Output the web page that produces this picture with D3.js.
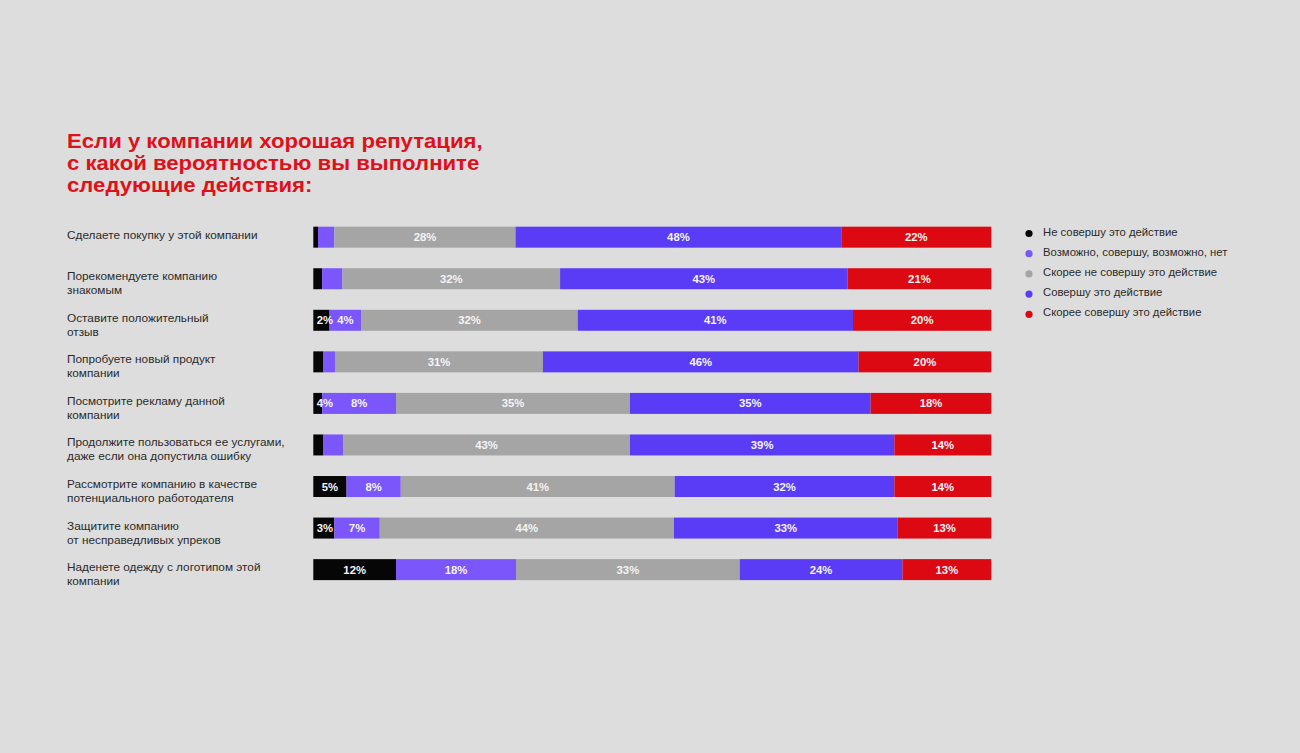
<html>
<head>
<meta charset="utf-8">
<script src='https://d3js.org/d3.v7.min.js'></script>
<style>
  body { margin: 0; background: #dedddd; }
  svg { display: block; font-family: "Liberation Sans", Arial, sans-serif; }
  .title { fill: #e0101a; font-weight: bold; font-size: 19.6px; }
  .cat { fill: #2a2a2a; font-size: 11.8px; }
  .seglabel { fill: #f4f4f4; font-weight: bold; font-size: 11.3px; }
  .legend text { fill: #2a2a2a; font-size: 11.3px; }
</style>
</head>
<body>
<svg width=1300 height=753></svg>
<script>
// title lines
var titleLines = ["Если у компании хорошая репутация,",
                  "с какой вероятностью вы выполните",
                  "следующие действия:"];

// rows (category labels, split by line)
var categories = [
  ["Сделаете покупку у этой компании"],
  ["Порекомендуете компанию", "знакомым"],
  ["Оставите положительный", "отзыв"],
  ["Попробуете новый продукт", "компании"],
  ["Посмотрите рекламу данной", "компании"],
  ["Продолжите пользоваться ее услугами,", "даже если она допустила ошибку"],
  ["Рассмотрите компанию в качестве", "потенциального работодателя"],
  ["Защитите компанию", "от несправедливых упреков"],
  ["Наденете одежду с логотипом этой", "компании"]
];

var seriesNames = ["Не совершу это действие",
                   "Возможно, совершу, возможно, нет",
                   "Скорее не совершу это действие",
                   "Совершу это действие",
                   "Скорее совершу это действие"];
var seriesColors = ["#060606", "#7b56fa", "#a5a5a5", "#5a3cf6", "#dc0912"];

// bar shares (%)
var neverDo  = [0.7, 1.3, 2.4, 1.5, 1.3, 1.5, 4.9, 3.1, 12.2];
var maybe    = [2.4, 3.0, 4.7, 1.7, 10.9, 2.9, 8.0, 6.7, 17.7];
var unlikely = [26.7, 32.1, 31.9, 30.7, 34.5, 42.3, 40.4, 43.4, 33.0];
var willDo   = [48.0, 42.4, 40.6, 46.6, 35.5, 39.0, 32.4, 33.0, 24.0];
var likely   = [22.1, 21.2, 20.4, 19.6, 17.8, 14.3, 14.3, 13.8, 13.1];

// printed labels ("" = not printed)
var neverDoLabels  = ["", "", "2%", "", "4%", "", "5%", "3%", "12%"];
var maybeLabels    = ["", "", "4%", "", "8%", "", "8%", "7%", "18%"];
var unlikelyLabels = ["28%", "32%", "32%", "31%", "35%", "43%", "41%", "44%", "33%"];
var willDoLabels   = ["48%", "43%", "41%", "46%", "35%", "39%", "32%", "33%", "24%"];
var likelyLabels   = ["22%", "21%", "20%", "20%", "18%", "14%", "14%", "13%", "13%"];

var values = [neverDo, maybe, unlikely, willDo, likely];
var labels = [neverDoLabels, maybeLabels, unlikelyLabels, willDoLabels, likelyLabels];

var svg = d3.select("svg");

// title - the original face is wider than Liberation, so stretch it a bit
svg.append("g").attr("transform", "translate(67,0) scale(1.13,1)")
  .selectAll("text").data(titleLines).enter().append("text")
  .attr("class", "title")
  .attr("x", 0).attr("y", function(d, i) { return 148.5 + i * 22; })
  .text(function(d) { return d; });

var rows = categories.map(function(c, i) {
  var r = {idx: i};
  seriesNames.forEach(function(s, k) { r[k] = values[k][i]; });
  return r;
});

var stack = d3.stack().keys([0, 1, 2, 3, 4]).offset(d3.stackOffsetExpand);
var stacked = stack(rows);

var x = d3.scaleLinear().domain([0, 1]).range([313.3, 991.3]);
var y = d3.scaleBand().domain(d3.range(categories.length))
  .range([216.4, 590.4]).paddingInner(0.495).paddingOuter(0.2475);

var bars = svg.append("g");
bars.selectAll("g").data(stacked).enter().append("g")
  .attr("fill", function(d) { return seriesColors[d.key]; })
  .selectAll("rect").data(function(d) { return d; }).enter().append("rect")
  .attr("x", function(d) { return x(d[0]); })
  .attr("y", function(d) { return y(d.data.idx); })
  .attr("width", function(d) { return x(d[1]) - x(d[0]); })
  .attr("height", y.bandwidth());

// segment labels
var segs = [];
stacked.forEach(function(s) {
  s.forEach(function(d) {
    var t = labels[s.key][d.data.idx];
    if (t) segs.push({t: t, x0: x(d[0]), x1: x(d[1]), row: d.data.idx});
  });
});
svg.append("g").selectAll("text").data(segs).enter().append("text")
  .attr("class", "seglabel")
  .attr("text-anchor", "middle")
  .attr("x", function(d) {
    var half = d.t.length * 3.3;
    return Math.max((d.x0 + d.x1) / 2, d.x0 + half + 5);
  })
  .attr("y", function(d) { return y(d.row) + y.bandwidth() / 2 + 4; })
  .text(function(d) { return d.t; });

// category labels
svg.append("g").selectAll("text").data(categories).enter().append("text")
  .attr("class", "cat")
  .each(function(lines, i) {
    d3.select(this).selectAll("tspan").data(lines).enter().append("tspan")
      .attr("x", 67)
      .attr("y", function(d, j) { return y(i) + 12 + j * 14; })
      .text(function(d) { return d; });
  });

// legend
var legend = svg.append("g").attr("class", "legend");
var item = legend.selectAll("g").data(seriesNames).enter().append("g")
  .attr("transform", function(d, i) { return "translate(1029," + (232.5 + i * 20.2) + ")"; });
item.append("circle").attr("r", 3.6).attr("cy", 1)
  .attr("fill", function(d, i) { return seriesColors[i]; });
item.append("text").attr("x", 14).attr("y", 3)
  .text(function(d) { return d; });
</script>
</body>
</html>
